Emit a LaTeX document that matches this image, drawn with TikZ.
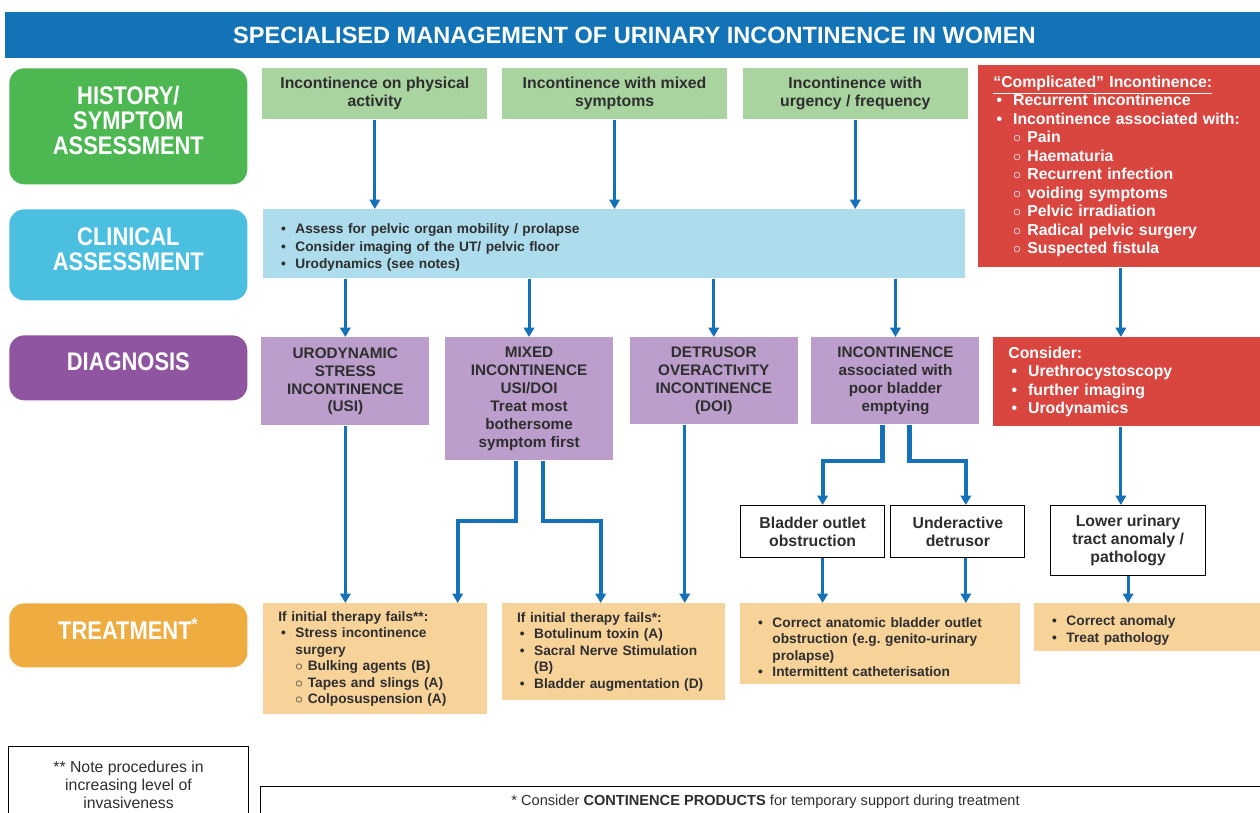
\documentclass[tikz,border=0pt]{standalone}
\usepackage{fontspec}
\setmainfont{Liberation Sans}
\newfontfamily\narrowsf[FakeStretch=0.86]{Liberation Sans}
\usepackage{tikz}
\usetikzlibrary{arrows.meta,positioning}
\definecolor{hdrblue}{HTML}{1273B6}
\definecolor{histgreen}{HTML}{4DB752}
\definecolor{clinblue}{HTML}{4BBFE0}
\definecolor{diagpurple}{HTML}{8F55A0}
\definecolor{treatorange}{HTML}{EFAC41}
\definecolor{symbg}{HTML}{A9D4A0}
\definecolor{exambg}{HTML}{ADDCEC}
\definecolor{diagbg}{HTML}{BC9ECC}
\definecolor{alertred}{HTML}{D9453F}
\definecolor{treatbg}{HTML}{F7D39A}
\definecolor{arrowblue}{HTML}{1571B8}
\definecolor{ink}{HTML}{2E2E2E}
% bullet and sub-bullet lines with hanging indent
\newcommand\bitem[1]{\par\noindent\hangindent=1.25em\hangafter=1%
  \hbox to 1.25em{\hspace{.2em}\textbullet\hfil}#1}
\newcommand\sitem[1]{\par\noindent\hangindent=2.15em\hangafter=1%
  \hbox to 2.15em{\hspace{1.25em}$\circ$\hfil}#1}
\newcommand\nl{\hfil\break}
\tikzset{
  titlebar/.style={fill=hdrblue,text=white,anchor=north west,inner sep=0pt,
    minimum width=251.6mm,minimum height=9.2mm,font=\fontsize{13.4}{16}\selectfont\bfseries},
  stage/.style={rounded corners=3mm,text=white,anchor=north west,inner sep=0pt,align=center,
    text depth=7pt,minimum width=47.6mm,font=\narrowsf\fontsize{14.5}{14.2}\selectfont\bfseries},
  sympt/.style={fill=symbg,text=ink,anchor=north west,inner sep=0pt,align=center,
    minimum width=45mm,minimum height=10.2mm,font=\fontsize{9}{10.2}\selectfont\bfseries},
  exambox/.style={fill=exambg,text=ink,anchor=north west,inner xsep=3mm,inner ysep=0pt,
    align=left,font=\fontsize{7.8}{9.9}\selectfont\bfseries},
  redbox/.style={fill=alertred,text=white,anchor=north west,inner xsep=3mm,inner ysep=0pt,
    align=left,font=\fontsize{9}{10.5}\selectfont\bfseries},
  dbox/.style={fill=diagbg,text=ink,anchor=north west,inner sep=0pt,align=center,
    minimum width=33.6mm,font=\fontsize{8.7}{10.2}\selectfont\bfseries},
  wbox/.style={draw=black,line width=0.7pt,fill=white,text=ink,anchor=north west,inner sep=0pt,
    align=center,font=\fontsize{9}{10.2}\selectfont\bfseries},
  tbox/.style={fill=treatbg,text=ink,anchor=north west,inner xsep=3mm,inner ysep=0pt,
    align=left,font=\fontsize{7.8}{9.4}\selectfont\bfseries},
  notebox/.style={draw=black,line width=0.6pt,fill=white,text=ink,anchor=north west,inner sep=0pt,
    align=center},
  flow/.style={-{Triangle[length=1.9mm,width=2.1mm]},line width=1.7pt,draw=arrowblue},
  flowb/.style={flow,line width=2.3pt},
}
\begin{document}
\begin{tikzpicture}[x=0.2mm,y=-0.2mm]
  \useasboundingbox (0,0) rectangle (1260,812);
  \clip (0,0) rectangle (1260,812);
  \node[titlebar] (title) at (5,12) {SPECIALISED MANAGEMENT OF URINARY INCONTINENCE IN WOMEN};
  % stages down the left
  \node[stage,fill=histgreen,minimum height=23.2mm] (sHist) at (9,68) {HISTORY/\\SYMPTOM\\ASSESSMENT};
  \node[stage,fill=clinblue,minimum height=18.2mm] (sClin) at (9,209) {CLINICAL\\ASSESSMENT};
  \node[stage,fill=diagpurple,minimum height=13mm] (sDiag) at (9,335) {DIAGNOSIS};
  \node[stage,fill=treatorange,minimum height=12.8mm] (sTreat) at (9,603) {TREATMENT\textsuperscript{*}};
  % symptoms
  \node[sympt] (phys) at (262,68) {Incontinence on physical\\activity};
  \node[sympt,right=2.8mm of phys] (mixsym) {Incontinence with mixed\\symptoms};
  \node[sympt,right=3mm of mixsym] (urg) {Incontinence with\\urgency / frequency};
  \node[redbox,text width=51mm,minimum height=40.4mm] (compl) at (978,65)
    {\underline{“Complicated” Incontinence:}
     \bitem{Recurrent incontinence}
     \bitem{Incontinence associated with:}
     \sitem{Pain}\sitem{Haematuria}\sitem{Recurrent infection}\sitem{voiding symptoms}
     \sitem{Pelvic irradiation}\sitem{Radical pelvic surgery}\sitem{Suspected fistula}};
  % clinical assessment
  \node[exambox,text width=134.4mm,minimum height=13.8mm] (exam) at (263,209)
    {\bitem{Assess for pelvic organ mobility / prolapse}
     \bitem{Consider imaging of the UT/ pelvic floor}
     \bitem{Urodynamics (see notes)}};
  % diagnosis
  \node[dbox,minimum height=17.6mm] (usi) at (261,337) {URODYNAMIC\\STRESS\\INCONTINENCE\\(USI)};
  \node[dbox,minimum height=24.6mm,right=3mm of usi.north east,anchor=north west] (mixed)
    {MIXED\\INCONTINENCE\\USI/DOI\\Treat most\\bothersome\\symptom first};
  \node[dbox,minimum height=17.4mm,right=3.2mm of mixed.north east,anchor=north west] (doi)
    {DETRUSOR\\OVERACTIvITY\\INCONTINENCE\\(DOI)};
  \node[dbox,minimum height=17.4mm,right=2.6mm of doi.north east,anchor=north west] (poor)
    {INCONTINENCE\\associated with\\poor bladder\\emptying};
  \node[redbox,text width=48.4mm,minimum height=17.8mm] (consider) at (993,337)
    {Consider:\bitem{Urethrocystoscopy}\bitem{further imaging}\bitem{Urodynamics}};
  % sub-diagnoses
  \node[wbox,minimum width=28.8mm,minimum height=10.4mm] (boo) at (740,505) {Bladder outlet\\obstruction};
  \node[wbox,minimum width=26.8mm,minimum height=10.4mm,right=1mm of boo.north east,anchor=north west] (udet)
    {Underactive\\detrusor};
  \node[wbox,minimum width=31mm,minimum height=14mm] (lut) at (1050,505) {Lower urinary\\tract anomaly /\\pathology};
  % treatment
  \node[tbox,text width=38.8mm,minimum height=22.2mm] (tUsi) at (263,603)
    {If initial therapy fails**:\bitem{Stress incontinence\nl surgery}
     \sitem{Bulking agents (B)}\sitem{Tapes and slings (A)}\sitem{Colposuspension (A)}};
  \node[tbox,text width=38.6mm,minimum height=19.4mm,right=2.8mm of tUsi.north east,anchor=north west] (tDoi)
    {If initial therapy fails*:\bitem{Botulinum toxin (A)}\bitem{Sacral Nerve Stimulation\nl (B)}
     \bitem{Bladder augmentation (D)}};
  \node[tbox,text width=50mm,minimum height=16.2mm] (tEmpty) at (740,603)
    {\bitem{Correct anatomic bladder outlet\nl obstruction (e.g.\ genito-urinary\nl prolapse)}
     \bitem{Intermittent catheterisation}};
  \node[tbox,text width=39.6mm,minimum height=9.6mm] (tLut) at (1034,603)
    {\bitem{Correct anomaly}\bitem{Treat pathology}};
  % notes
  \node[notebox,minimum width=48mm,minimum height=15.2mm,font=\fontsize{9}{10.2}\selectfont] (note) at (8,746)
    {** Note procedures in\\increasing level of\\invasiveness};
  \node[notebox,minimum width=202mm,minimum height=6mm,font=\fontsize{8.3}{10}\selectfont] (products) at (260,786)
    {* Consider \textbf{CONTINENCE PRODUCTS} for temporary support during treatment};
  % connectors
  \foreach \a in {phys,mixsym,urg}
    \draw[flow] (\a) -- (\a |- exam.north);
  \foreach \b in {usi,mixed,doi,poor}
    \draw[flow] (\b |- exam.south) -- (\b);
  \draw[flow] (compl.south) -- (compl.south |- consider.north);
  \draw[flow] (compl.south |- consider.south) -- (compl.south |- lut.north);
  \draw[flow] (usi) -- (usi |- tUsi.north);
  \draw[flowb] ([xshift=-2.6mm]mixed.south) -- ++(0,60) -| ([xshift=-6mm]tUsi.north east);
  \draw[flowb] ([xshift=2.8mm]mixed.south) -- ++(0,60) -| ([xshift=19.8mm]tDoi.north west);
  \draw[flow] ([xshift=-5.8mm]doi.south) -- ([xshift=-5.8mm]doi.south |- tDoi.north);
  \draw[flowb] ([xshift=-2.6mm]poor.south) -- ++(0,36) -| ([xshift=2mm]boo.north);
  \draw[flowb] ([xshift=2.8mm]poor.south) -- ++(0,36) -| ([xshift=1.6mm]udet.north);
  \draw[flow] ([xshift=2mm]boo.south) -- ([xshift=2mm]boo.south |- tEmpty.north);
  \draw[flow] ([xshift=1.6mm]udet.south) -- ([xshift=1.6mm]udet.south |- tEmpty.north);
  \draw[flow] (lut) -- (lut |- tLut.north);
\end{tikzpicture}
\end{document}
